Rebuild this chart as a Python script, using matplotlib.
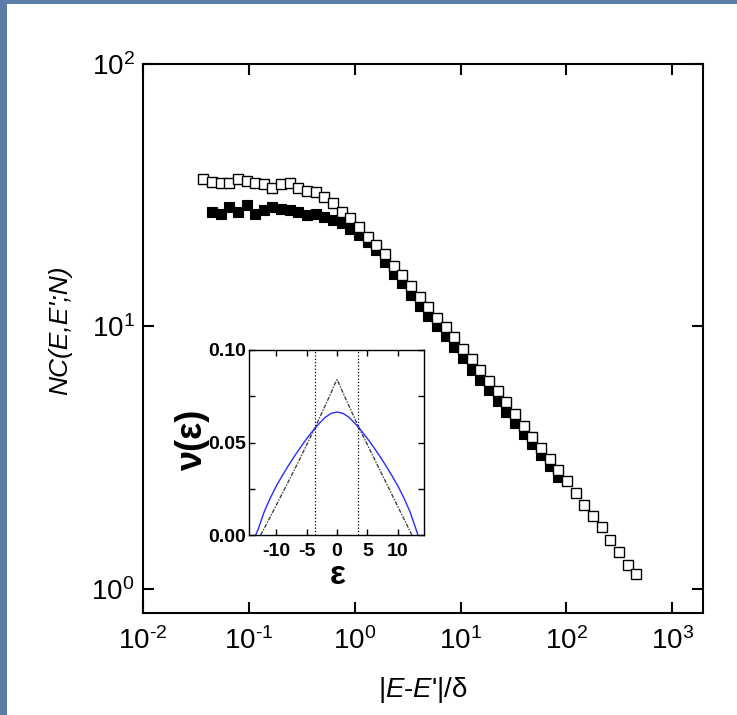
import matplotlib
matplotlib.use('Agg')
import matplotlib.pyplot as plt
from matplotlib.patches import Rectangle
from matplotlib.ticker import NullLocator

# data
x_open = [0.0371, 0.0448, 0.0541, 0.0652, 0.0787, 0.0951, 0.115, 0.139, 0.167, 0.202,
          0.244, 0.294, 0.356, 0.429, 0.518, 0.625, 0.755, 0.912, 1.10, 1.33,
          1.60, 1.94, 2.34, 2.82, 3.40, 4.11, 4.97, 6.00, 7.24, 8.73,
          10.5, 12.7, 15.4, 18.6, 22.4, 27.1, 32.7, 39.4, 47.6, 57.5,
          69.5, 83.8, 101, 122, 148, 178, 215, 259, 313, 378, 457]
nc_open = [36.6, 35.5, 35.1, 35.1, 36.6, 35.9, 35.2, 34.8, 33.8, 34.8,
           35.1, 33.6, 32.8, 32.6, 31.0, 29.6, 27.3, 25.8, 23.9, 21.9,
           20.4, 18.9, 17.0, 15.7, 14.3, 13.0, 11.9, 10.8, 9.93, 9.09,
           8.22, 7.53, 6.80, 6.22, 5.66, 5.14, 4.65, 4.19, 3.80, 3.44,
           3.13, 2.84, 2.57, 2.32, 2.09, 1.90, 1.72, 1.54, 1.38, 1.23, 1.14]

x_fill = [0.0448, 0.0541, 0.0652, 0.0787, 0.0951, 0.115, 0.139, 0.167, 0.202,
          0.244, 0.294, 0.356, 0.429, 0.518, 0.625, 0.755, 0.912, 1.10, 1.33,
          1.60, 1.94, 2.34, 2.82, 3.40, 4.11, 4.97, 6.00, 7.24, 8.73,
          10.5, 12.7, 15.4, 18.6, 22.4, 27.1, 32.7, 39.4, 47.6, 57.5,
          69.5, 83.8]
nc_fill = [27.3, 26.9, 28.5, 27.3, 29.0, 26.7, 27.8, 28.4, 28.1,
           27.7, 27.3, 26.5, 26.7, 26.1, 25.4, 24.7, 23.6, 22.4, 21.0,
           19.5, 17.6, 15.9, 14.6, 13.2, 12.0, 11.0, 10.0, 9.16, 8.34,
           7.60, 6.84, 6.26, 5.70, 5.19, 4.71, 4.27, 3.89, 3.55, 3.25,
           2.95, 2.68]

x_ticks = [1e-2, 1e-1, 1e0, 1e1, 1e2, 1e3]
x_tick_labels = ['$\\mathregular{10^{\u2010 2}}$', '$\\mathregular{10^{\u2010 1}}$', r'$\mathregular{10^{0}}$',
                 r'$\mathregular{10^{1}}$', r'$\mathregular{10^{2}}$', r'$\mathregular{10^{3}}$']
y_ticks = [1e0, 1e1, 1e2]
y_tick_labels = [r'$\mathregular{10^{0}}$', r'$\mathregular{10^{1}}$', r'$\mathregular{10^{2}}$']

# inset: level density
eps_tri = [-12.6, -12, -11, -10, -9, -8, -7, -6, -5, -4, -3, -2, -1, -0.4, 0, 0.4,
           1, 2, 3, 4, 5, 6, 7, 8, 9, 10, 11, 12, 12.3]
nu_tri = [0.0, 0.0035, 0.0098, 0.0162, 0.0226, 0.0290, 0.0355, 0.0420, 0.0488, 0.0555, 0.0625, 0.0697, 0.0768, 0.0815, 0.0840, 0.0812,
          0.0766, 0.0694, 0.0622, 0.0553, 0.0487, 0.0420, 0.0353, 0.0287, 0.0220, 0.0153, 0.0087, 0.0020, 0.0]
eps_blue = [-13.4, -13, -12, -11, -10, -9, -8, -7, -6, -5, -4, -3, -2, -1, 0,
            1, 2, 3, 4, 5, 6, 7, 8, 9, 10, 11, 12, 13, 13.3]
nu_blue = [0.0, 0.0030, 0.0125, 0.0200, 0.0265, 0.0322, 0.0376, 0.0427, 0.0475, 0.0521, 0.0563, 0.0601, 0.0635, 0.0657, 0.0665,
           0.0657, 0.0635, 0.0601, 0.0563, 0.0521, 0.0475, 0.0427, 0.0376, 0.0322, 0.0265, 0.0200, 0.0125, 0.0030, 0.0]
eps_window = [-3.6, 3.5]

plt.rcParams['font.family'] = ['Liberation Sans', 'DejaVu Sans']
plt.rcParams['mathtext.fontset'] = 'custom'
plt.rcParams['mathtext.rm'] = 'Liberation Sans'
plt.rcParams['mathtext.it'] = 'Liberation Sans:italic'
plt.rcParams['mathtext.bf'] = 'Liberation Sans:bold'
plt.rcParams['axes.unicode_minus'] = False

fig = plt.figure(figsize=(7.37, 7.15), dpi=100)
fig.patch.set_facecolor('#5b7ca6')
fig.patches.append(Rectangle((7 / 737, 0), 1, 711 / 715, transform=fig.transFigure,
                             facecolor='white', edgecolor='none', zorder=-1))

# main plot
ax = fig.add_axes([143 / 737, 1 - 613 / 715, 560 / 737, 549 / 715])
ax.plot(x_fill, nc_fill, 's', color='black', ms=6.5, mew=0.8, zorder=2)
ax.plot(x_open, nc_open, 's', mfc='white', mec='black', ms=6.5, mew=1.0, zorder=3)
ax.set_xscale('log')
ax.set_yscale('log')
ax.set_xlim(1e-2, 10 ** 3.29)
ax.set_ylim(10 ** -0.092, 100)
ax.set_xticks(x_ticks)
ax.set_xticklabels(x_tick_labels)
ax.set_yticks(y_ticks)
ax.set_yticklabels(y_tick_labels)
ax.xaxis.set_minor_locator(NullLocator())
ax.yaxis.set_minor_locator(NullLocator())
ax.tick_params(which='major', direction='in', length=8, width=1.5, top=True, right=True,
               labelsize=20)
ax.tick_params(axis='x', pad=10)
ax.tick_params(axis='y', pad=6)
for s in ax.spines.values():
    s.set_linewidth(1.5)

fig.text(423 / 737, 1 - 690 / 715, "|$\\mathit{E}$-$\\mathit{E}$'|/δ", ha='center', va='center', fontsize=20)
fig.text(60 / 737, 1 - 330 / 715, "NC(E,E';N)", ha='center', va='center', fontsize=19,
         style='italic', rotation=90)

# inset
axin = fig.add_axes([249 / 737, 1 - 535 / 715, 175 / 737, 185 / 715])
axin.plot(eps_tri, nu_tri, color='#222222', lw=1.0, ls=(0, (3, 1, 1, 1)), alpha=0.85)
axin.plot(eps_blue, nu_blue, color='#2b2bff', lw=1.0)
for e in eps_window:
    axin.axvline(e, color='black', ls=':', lw=0.9)
axin.set_xlim(-14.5, 14.3)
axin.set_ylim(0, 0.1)
axin.set_xticks([-10, -5, 0, 5, 10])
axin.set_xticklabels(['-10', '-5', '0', '5', '10'])
axin.set_yticks([0, 0.025, 0.05, 0.075, 0.1])
axin.set_yticklabels(['0.00', '', '0.05', '', '0.10'])
axin.tick_params(direction='in', length=4, width=1, top=True, right=True, labelsize=14)
axin.tick_params(axis='x', pad=6)
axin.tick_params(axis='y', pad=2)
for lab in axin.get_xticklabels() + axin.get_yticklabels():
    lab.set_fontweight('bold')
for s in axin.spines.values():
    s.set_linewidth(1.0)
fig.text(338 / 737, 1 - 575 / 715, 'ε', ha='center', va='center', fontsize=24, fontweight='bold')
fig.text(193 / 737, 1 - 440 / 715, 'ν(ε)', ha='center', va='center', fontsize=26,
         fontweight='bold', rotation=90)

fig.savefig('out.png', dpi=100, facecolor=fig.get_facecolor())
